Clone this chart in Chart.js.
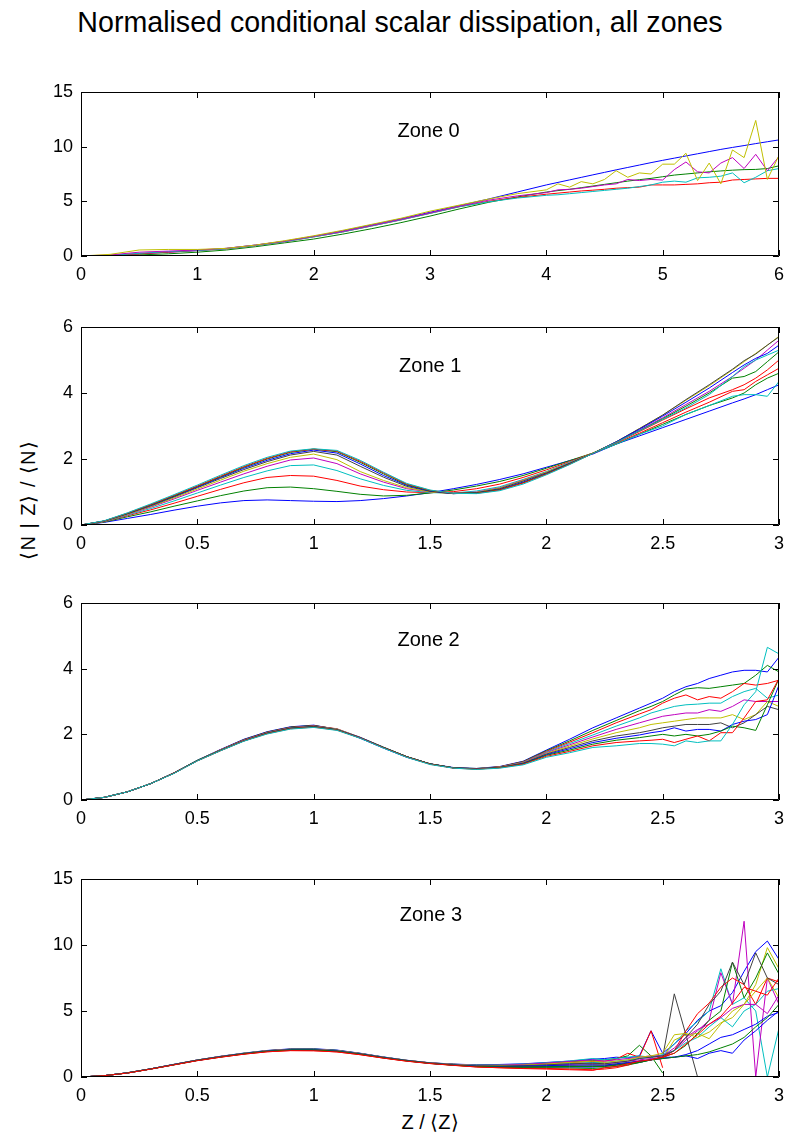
<!DOCTYPE html>
<html>
<head>
<meta charset="utf-8">
<script src="https://cdn.jsdelivr.net/npm/chart.js@4.4.0/dist/chart.umd.min.js"></script>
<style>
  html, body { margin: 0; padding: 0; background: #fff; }
  body { width: 789px; height: 1138px; position: relative; overflow: hidden;
         font-family: "Liberation Sans", Arial, sans-serif; color: #000; }
  canvas { position: absolute; left: 0; }
  .txt { position: absolute; white-space: nowrap; line-height: 1; }
</style>
</head>
<body>
<div class="txt" style="left:400px; top:8px; font-size:28.6px; transform:translateX(-50%);">Normalised conditional scalar dissipation, all zones</div>
<div class="txt" style="left:28px; top:500px; font-size:20px; letter-spacing:1px; transform:translate(-50%,-50%) rotate(-90deg);">⟨N | Z⟩ / ⟨N⟩</div>
<div class="txt" style="left:430px; top:1122px; font-size:20px; transform:translate(-50%,-50%);">Z / ⟨Z⟩</div>
<canvas id="zone0"></canvas>
<canvas id="zone1"></canvas>
<canvas id="zone2"></canvas>
<canvas id="zone3"></canvas>
<script>
// MATLAB classic line colour order: b g r c m y k
const LINE_COLORS = ['#0000ff', '#008000', '#ff0000', '#00bfbf', '#bf00bf', '#bfbf00', '#404040'];

// ---- Zone 0 ----
const zone0X = [0, 0.25, 0.5, 0.75, 1, 1.25, 1.5, 1.75, 2, 2.25, 2.5, 2.75, 3, 3.25, 3.5, 3.75, 4,
  4.1, 4.2, 4.3, 4.4, 4.5, 4.6, 4.7, 4.8, 4.9, 5, 5.1, 5.2, 5.3, 5.4, 5.5, 5.6, 5.7, 5.8, 5.9, 6];
const zone0Series = [
  [0, 0.05, 0.2, 0.35, 0.5, 0.7, 1.0, 1.35, 1.8, 2.3, 2.85, 3.4, 4.0, 4.6, 5.2, 5.85, 6.5,
   6.73, 6.96, 7.19, 7.42, 7.65, 7.88, 8.1, 8.32, 8.54, 8.75, 8.95, 9.15, 9.35, 9.55, 9.75, 9.93, 10.1, 10.28, 10.45, 10.62],
  [0, 0.02, 0.1, 0.2, 0.35, 0.55, 0.85, 1.2, 1.55, 2.0, 2.5, 3.05, 3.65, 4.3, 4.9, 5.4, 5.85,
   5.98, 6.1, 6.25, 6.4, 6.55, 6.7, 6.85, 6.98, 7.1, 7.25, 7.4, 7.5, 7.6, 7.7, 7.78, 7.85, 7.9, 7.92, 8.0, 8.25],
  [0, 0.05, 0.2, 0.35, 0.5, 0.65, 0.95, 1.3, 1.75, 2.2, 2.75, 3.3, 3.9, 4.5, 5.0, 5.35, 5.65,
   5.75, 5.85, 5.95, 6.02, 6.1, 6.2, 6.25, 6.3, 6.5, 6.5, 6.5, 6.55, 6.6, 6.7, 6.75, 6.95, 7.0, 7.05, 7.1, 7.1],
  [0, 0.05, 0.25, 0.4, 0.5, 0.65, 0.95, 1.3, 1.75, 2.2, 2.75, 3.3, 3.9, 4.5, 4.95, 5.3, 5.55,
   5.6, 5.7, 5.8, 5.9, 6.0, 6.1, 6.2, 6.35, 6.5, 6.75, 6.85, 6.75, 7.15, 7.2, 7.3, 7.6, 6.7, 7.2, 7.8, 8.0],
  [0, 0.1, 0.35, 0.45, 0.55, 0.7, 1.0, 1.35, 1.8, 2.25, 2.8, 3.35, 3.95, 4.55, 5.1, 5.5, 5.8,
   6.05, 6.1, 6.2, 6.35, 6.5, 6.6, 7.0, 6.9, 7.0, 6.95, 7.9, 8.6, 7.7, 7.6, 8.5, 9.0, 8.0, 9.3, 7.8, 9.1],
  [0, 0.15, 0.55, 0.6, 0.6, 0.7, 1.0, 1.4, 1.85, 2.35, 2.9, 3.45, 4.1, 4.65, 5.2, 5.7, 6.05,
   6.6, 6.3, 6.8, 6.6, 7.0, 7.8, 7.2, 7.6, 7.5, 8.4, 8.4, 9.4, 6.9, 8.5, 6.6, 9.7, 9.0, 12.4, 7.0, 9.2]
];

// ---- Zone 1 ----
const zone1X = [0, 0.1, 0.2, 0.3, 0.4, 0.5, 0.6, 0.7, 0.8, 0.9, 1, 1.1, 1.2, 1.3, 1.4, 1.5, 1.6, 1.7, 1.8, 1.9,
  2, 2.1, 2.2, 2.3, 2.4, 2.5, 2.6, 2.7, 2.8, 2.85, 2.9, 2.95, 3];
const zone1Series = [
  [0, 0.08, 0.2, 0.32, 0.45, 0.57, 0.67, 0.74, 0.76, 0.74, 0.72, 0.71, 0.74, 0.8, 0.88, 0.98, 1.1, 1.23, 1.38, 1.55,
   1.75, 1.95, 2.15, 2.45, 2.7, 2.95, 3.2, 3.45, 3.7, 3.82, 3.95, 4.1, 4.25],
  [0, 0.09, 0.25, 0.4, 0.57, 0.73, 0.89, 1.03, 1.13, 1.15, 1.1, 1.02, 0.93, 0.88, 0.9, 0.97, 1.06, 1.18, 1.32, 1.5,
   1.72, 1.95, 2.18, 2.45, 2.75, 3.05, 3.35, 3.62, 3.85, 4.0, 4.25, 4.45, 4.6],
  [0, 0.1, 0.28, 0.46, 0.66, 0.87, 1.08, 1.28, 1.44, 1.5, 1.48, 1.35, 1.18, 1.07, 1.0, 0.98, 1.01, 1.1, 1.24, 1.44,
   1.67, 1.92, 2.18, 2.47, 2.78, 3.1, 3.42, 3.72, 4.05, 4.1, 4.35, 4.55, 4.75],
  [0, 0.1, 0.3, 0.5, 0.73, 0.97, 1.21, 1.44, 1.64, 1.8, 1.82, 1.65, 1.4, 1.2, 1.05, 0.98, 0.97, 1.03, 1.16, 1.38,
   1.62, 1.9, 2.17, 2.45, 2.75, 3.0, 3.35, 3.62, 3.9, 3.95, 3.95, 3.9, 4.35],
  [0, 0.11, 0.32, 0.54, 0.79, 1.05, 1.3, 1.55, 1.78, 1.97, 2.03, 1.86, 1.55, 1.3, 1.1, 1.0, 0.96, 1.0, 1.13, 1.36,
   1.6, 1.88, 2.17, 2.5, 2.87, 3.25, 3.65, 4.05, 4.5, 4.75, 5.0, 5.3, 5.6],
  [0, 0.11, 0.33, 0.56, 0.82, 1.09, 1.36, 1.63, 1.86, 2.05, 2.15, 1.98, 1.62, 1.35, 1.13, 1.0, 0.95, 0.99, 1.12, 1.35,
   1.6, 1.88, 2.18, 2.52, 2.92, 3.33, 3.78, 4.22, 4.7, 4.95, 5.2, 5.45, 5.72],
  [0, 0.12, 0.34, 0.58, 0.85, 1.13, 1.41, 1.68, 1.92, 2.12, 2.23, 2.12, 1.78, 1.45, 1.17, 1.02, 0.95, 0.98, 1.1, 1.33,
   1.58, 1.87, 2.17, 2.52, 2.92, 3.33, 3.8, 4.25, 4.72, 4.98, 5.18, 5.45, 5.7],
  [0, 0.12, 0.35, 0.6, 0.87, 1.15, 1.44, 1.72, 1.96, 2.16, 2.27, 2.18, 1.85, 1.5, 1.2, 1.03, 0.95, 0.97, 1.08, 1.3,
   1.56, 1.86, 2.17, 2.52, 2.9, 3.3, 3.72, 4.15, 4.62, 4.85, 5.05, 5.2, 5.45],
  [0, 0.12, 0.35, 0.61, 0.88, 1.17, 1.46, 1.75, 2.0, 2.2, 2.3, 2.22, 1.9, 1.55, 1.22, 1.04, 0.96, 0.97, 1.07, 1.28,
   1.55, 1.85, 2.17, 2.5, 2.85, 3.22, 3.6, 4.0, 4.45, 4.5, 4.65, 4.95, 5.25],
  [0, 0.12, 0.36, 0.62, 0.9, 1.18, 1.48, 1.77, 2.02, 2.22, 2.3, 2.24, 1.93, 1.58, 1.24, 1.05, 0.96, 0.96, 1.06, 1.27,
   1.54, 1.84, 2.17, 2.5, 2.83, 3.18, 3.52, 3.85, 4.1, 4.25, 4.45, 4.7, 5.0],
  [0, 0.13, 0.37, 0.64, 0.92, 1.21, 1.51, 1.8, 2.05, 2.24, 2.31, 2.26, 1.96, 1.6, 1.26, 1.06, 0.96, 0.95, 1.04, 1.24,
   1.52, 1.83, 2.17, 2.5, 2.85, 3.2, 3.55, 3.95, 4.5, 4.8, 5.0, 5.15, 5.3]
];

// ---- Zone 2 ----
const zone2X = [0, 0.1, 0.2, 0.3, 0.4, 0.5, 0.6, 0.7, 0.8, 0.9, 1, 1.1, 1.2, 1.3, 1.4, 1.5, 1.6, 1.7, 1.8, 1.9,
  2, 2.1, 2.2, 2.3, 2.4, 2.45, 2.5, 2.55, 2.6, 2.65, 2.7, 2.75, 2.8, 2.85, 2.9, 2.95, 3];
const zone2Series = [
  [0, 0.08, 0.25, 0.5, 0.83, 1.21, 1.54, 1.85, 2.08, 2.23, 2.28, 2.15, 1.88, 1.58, 1.3, 1.1, 0.99, 0.96, 1.02, 1.18,
   1.52, 1.85, 2.2, 2.5, 2.8, 2.95, 3.1, 3.3, 3.45, 3.55, 3.7, 3.8, 3.9, 3.95, 3.95, 3.9, 4.35],
  [0, 0.08, 0.25, 0.5, 0.83, 1.21, 1.53, 1.84, 2.07, 2.22, 2.27, 2.16, 1.9, 1.6, 1.31, 1.1, 0.98, 0.96, 1.01, 1.17,
   1.5, 1.8, 2.12, 2.42, 2.72, 2.85, 3.0, 3.2, 3.38, 3.42, 3.4, 3.45, 3.5, 3.55, 3.8, 4.1, 3.9],
  [0, 0.08, 0.25, 0.5, 0.82, 1.2, 1.53, 1.83, 2.06, 2.21, 2.26, 2.17, 1.91, 1.61, 1.32, 1.1, 0.98, 0.95, 1.01, 1.16,
   1.48, 1.76, 2.05, 2.35, 2.62, 2.75, 2.95, 3.1, 3.2, 3.05, 3.15, 3.1, 3.3, 3.55, 3.5, 3.55, 3.65],
  [0, 0.08, 0.25, 0.5, 0.82, 1.2, 1.52, 1.82, 2.05, 2.2, 2.25, 2.16, 1.91, 1.61, 1.32, 1.1, 0.98, 0.95, 1.0, 1.15,
   1.46, 1.72, 1.98, 2.25, 2.5, 2.65, 2.75, 2.85, 2.9, 2.92, 2.95, 2.95, 3.15, 3.3, 3.4, 3.1, 3.2],
  [0, 0.08, 0.25, 0.5, 0.82, 1.2, 1.52, 1.82, 2.05, 2.2, 2.25, 2.15, 1.9, 1.6, 1.32, 1.1, 0.98, 0.95, 1.0, 1.14,
   1.44, 1.68, 1.92, 2.15, 2.35, 2.45, 2.55, 2.6, 2.65, 2.65, 2.75, 2.7, 2.85, 3.05, 3.0, 3.0, 3.0],
  [0, 0.08, 0.25, 0.5, 0.82, 1.2, 1.52, 1.81, 2.04, 2.19, 2.24, 2.15, 1.9, 1.6, 1.32, 1.1, 0.98, 0.95, 1.0, 1.13,
   1.42, 1.64, 1.86, 2.05, 2.2, 2.3, 2.35, 2.4, 2.45, 2.5, 2.5, 2.5, 2.6, 2.45, 2.6, 3.0, 2.85],
  [0, 0.08, 0.25, 0.5, 0.82, 1.2, 1.51, 1.81, 2.04, 2.19, 2.24, 2.14, 1.9, 1.6, 1.32, 1.1, 0.98, 0.95, 0.99, 1.12,
   1.4, 1.6, 1.8, 1.95, 2.05, 2.12, 2.2, 2.25, 2.3, 2.3, 2.3, 2.35, 2.2, 2.35, 2.6, 2.85, 2.75],
  [0, 0.08, 0.25, 0.5, 0.82, 1.2, 1.51, 1.8, 2.03, 2.18, 2.23, 2.14, 1.9, 1.6, 1.32, 1.1, 0.98, 0.95, 0.99, 1.11,
   1.38, 1.56, 1.75, 1.88, 1.98, 2.05, 2.1, 2.2, 2.1, 2.15, 2.15, 2.1, 2.3, 2.4, 2.45, 2.6, 3.5],
  [0, 0.08, 0.25, 0.5, 0.82, 1.2, 1.51, 1.8, 2.03, 2.18, 2.23, 2.14, 1.89, 1.6, 1.32, 1.1, 0.98, 0.94, 0.99, 1.1,
   1.36, 1.52, 1.7, 1.82, 1.9, 1.95, 2.0, 1.95, 2.0, 1.95, 2.0, 2.1, 2.25, 2.2, 2.12, 2.9, 3.7],
  [0, 0.08, 0.25, 0.5, 0.82, 1.19, 1.5, 1.8, 2.02, 2.17, 2.22, 2.13, 1.89, 1.59, 1.31, 1.09, 0.97, 0.94, 0.98, 1.09,
   1.33, 1.48, 1.65, 1.75, 1.8, 1.82, 1.85, 1.75, 1.85, 1.95, 1.8, 2.05, 2.05, 2.5, 3.0, 3.05, 3.7],
  [0, 0.08, 0.25, 0.5, 0.81, 1.19, 1.5, 1.79, 2.01, 2.16, 2.21, 2.12, 1.88, 1.58, 1.3, 1.08, 0.97, 0.93, 0.97, 1.07,
   1.3, 1.44, 1.6, 1.65, 1.72, 1.72, 1.7, 1.65, 1.8, 1.75, 1.8, 1.8, 2.3, 2.9, 3.3, 4.65, 4.45]
];

// ---- Zone 3 ----
const zone3X = [0, 0.1, 0.2, 0.3, 0.4, 0.5, 0.6, 0.7, 0.8, 0.9, 1, 1.1, 1.2, 1.3, 1.4, 1.5, 1.6, 1.7, 1.8, 1.9,
  2, 2.1, 2.2, 2.25, 2.3, 2.35, 2.4, 2.45, 2.5, 2.55, 2.6, 2.65, 2.7, 2.75, 2.8, 2.85, 2.9, 2.95, 3];
const zone3Series = [
  [0, 0.1, 0.32, 0.62, 0.96, 1.29, 1.57, 1.81, 2.01, 2.13, 2.14, 2.04, 1.8, 1.52, 1.27, 1.08,
   0.98, 0.92, 0.95, 1.0, 1.1, 1.2, 1.35,
   1.4, 1.5, 1.45, 1.6, 3.5, 1.8, 2.5, 3.3, 4.3, 5.0, 5.4, 6.4, 8.0, 9.5, 10.3, 8.9],
  [0, 0.1, 0.32, 0.62, 0.96, 1.29, 1.56, 1.8, 2.0, 2.11, 2.12, 2.02, 1.79, 1.51, 1.26, 1.07,
   0.97, 0.9, 0.9, 0.95, 1.05, 1.15, 1.25,
   1.3, 1.4, 1.6, 2.4, 1.6, 0.3, null, null, null, null, null, null, null, null, null, null],
  [0, 0.1, 0.32, 0.62, 0.95, 1.28, 1.56, 1.79, 1.99, 2.1, 2.1, 2.0, 1.78, 1.5, 1.26, 1.07,
   0.96, 0.88, 0.88, 0.92, 1.0, 1.08, 1.18,
   1.2, 1.35, 1.8, 1.5, 3.5, 0.7, null, null, null, null, null, null, null, null, null, null],
  [0, 0.1, 0.32, 0.62, 0.95, 1.28, 1.55, 1.79, 1.98, 2.09, 2.09, 1.99, 1.77, 1.49, 1.25, 1.06,
   0.95, 0.87, 0.85, 0.88, 0.95, 1.02, 1.1,
   1.1, 1.2, 1.3, 1.4, 1.5, 1.6, 2.5, 3.5, 4.2, 5.0, 8.2, 5.5, 6.0, 5.0, 0.0, 3.7],
  [0, 0.1, 0.32, 0.62, 0.95, 1.28, 1.55, 1.78, 1.97, 2.08, 2.08, 1.98, 1.76, 1.49, 1.25, 1.06,
   0.94, 0.85, 0.82, 0.85, 0.9, 0.95, 1.02,
   1.0, 1.1, 1.2, 1.3, 1.4, 1.5, 2.0, 2.8, 3.5, 4.3, 7.9, 5.5, 11.8, 0.0, 7.5, 5.5],
  [0, 0.1, 0.32, 0.62, 0.95, 1.27, 1.55, 1.78, 1.97, 2.07, 2.07, 1.97, 1.75, 1.48, 1.25, 1.05,
   0.93, 0.83, 0.8, 0.8, 0.85, 0.88, 0.95,
   0.95, 1.0, 1.1, 1.2, 1.3, 1.4, 2.8, 3.2, 3.3, 2.9, 4.0, 5.0, 5.5, 7.0, 9.8, 8.2],
  [0, 0.1, 0.31, 0.61, 0.94, 1.27, 1.54, 1.77, 1.96, 2.06, 2.06, 1.96, 1.74, 1.47, 1.24, 1.05,
   0.92, 0.82, 0.78, 0.77, 0.8, 0.82, 0.85,
   0.85, 0.95, 1.05, 1.2, 1.3, 1.5, 6.3, 3.2, 0.0, null, null, null, null, null, null, null],
  [0, 0.1, 0.31, 0.61, 0.94, 1.26, 1.53, 1.76, 1.95, 2.05, 2.05, 1.95, 1.73, 1.46, 1.23, 1.04,
   0.91, 0.8, 0.75, 0.73, 0.75, 0.75, 0.75,
   0.8, 0.9, 1.0, 1.1, 1.3, 1.5, 1.5, 1.6, 1.4, 1.8, 2.0, 1.8, 2.8, 3.5, 4.3, 5.0],
  [0, 0.1, 0.31, 0.61, 0.93, 1.26, 1.52, 1.75, 1.94, 2.04, 2.03, 1.94, 1.72, 1.45, 1.22, 1.03,
   0.9, 0.78, 0.72, 0.7, 0.7, 0.68, 0.65,
   0.7, 0.8, 0.9, 1.1, 1.3, 1.5, 1.8, 2.4, 3.3, 4.3, 5.0, 8.7, 6.0, 7.5, 9.4, 7.8],
  [0, 0.1, 0.3, 0.6, 0.92, 1.24, 1.5, 1.73, 1.91, 2.0, 1.99, 1.9, 1.69, 1.43, 1.2, 1.02,
   0.89, 0.76, 0.7, 0.66, 0.65, 0.6, 0.55,
   0.6, 0.7, 0.9, 1.2, 1.3, 1.5, 2.0, 3.5, 4.8, 5.6, 6.8, 7.5, 7.0, 5.5, 7.5, 7.2],
  [0, 0.1, 0.32, 0.62, 0.95, 1.28, 1.55, 1.79, 1.98, 2.09, 2.1, 2.0, 1.77, 1.5, 1.26, 1.06,
   0.95, 0.9, 0.92, 0.98, 1.08, 1.22, 1.4,
   1.3, 1.4, 1.5, 1.6, 1.5, 1.7, 2.0, 2.6, 3.0, 3.8, 4.5, 3.8, 5.0, 5.5, 6.5, 6.7],
  [0, 0.1, 0.32, 0.62, 0.95, 1.28, 1.55, 1.78, 1.98, 2.08, 2.09, 1.99, 1.77, 1.49, 1.25, 1.06,
   0.94, 0.88, 0.9, 0.96, 1.05, 1.18, 1.3,
   1.2, 1.3, 1.4, 1.5, 1.6, 1.6, 2.2, 3.0, 3.6, 4.0, 4.5, 5.2, 5.5, 5.5, 4.8, 6.2],
  [0, 0.1, 0.31, 0.61, 0.94, 1.27, 1.54, 1.78, 1.97, 2.07, 2.08, 1.98, 1.76, 1.48, 1.25, 1.05,
   0.93, 0.86, 0.86, 0.9, 0.98, 1.1, 1.2,
   1.1, 1.2, 1.3, 1.5, 1.6, 1.8, 3.2, 3.3, 3.0, 3.4, 4.1, 4.5, 5.5, 6.5, 7.5, 6.0],
  [0, 0.1, 0.31, 0.61, 0.94, 1.27, 1.54, 1.77, 1.96, 2.06, 2.07, 1.97, 1.75, 1.48, 1.24, 1.05,
   0.92, 0.84, 0.83, 0.86, 0.92, 1.0, 1.05,
   1.0, 1.1, 1.2, 1.4, 1.5, 1.6, 2.0, 3.0, 4.0, 5.5, 6.5, 8.7, 7.0, 9.4, 7.5, 7.0],
  [0, 0.1, 0.31, 0.61, 0.94, 1.26, 1.53, 1.77, 1.96, 2.06, 2.06, 1.96, 1.74, 1.47, 1.24, 1.04,
   0.91, 0.82, 0.8, 0.82, 0.86, 0.9, 0.92,
   0.9, 1.0, 1.1, 1.2, 1.3, 1.4, 1.5, 1.7, 2.0, 2.5, 3.0, 3.2, 3.6, 4.0, 4.6, 4.9],
  [0, 0.1, 0.31, 0.61, 0.93, 1.26, 1.52, 1.76, 1.95, 2.05, 2.05, 1.95, 1.73, 1.46, 1.23, 1.04,
   0.9, 0.8, 0.76, 0.76, 0.78, 0.8, 0.8,
   0.8, 0.9, 1.0, 1.1, 1.3, 1.4, 1.5, 1.6, 1.7, 1.9, 2.2, 2.5, 3.0, 3.8, 4.5, 5.5],
  [0, 0.1, 0.3, 0.6, 0.92, 1.24, 1.5, 1.73, 1.91, 2.0, 1.99, 1.9, 1.69, 1.43, 1.2, 1.02,
   0.88, 0.76, 0.7, 0.64, 0.6, 0.55, 0.5,
   0.7, 0.8, 1.0, 1.2, 1.3, 1.5, 1.8, 2.5, 3.2, 4.0, 4.6, 5.6, 6.8, 6.5, 6.2, 7.5]
];

const FONT_FAMILY = '"Liberation Sans", Arial, sans-serif';

// Box round the axes plus inward ticks on all four sides, and the zone caption
const framePlugin = {
  id: 'frame',
  afterDraw(chart, args, opts) {
    const { ctx, chartArea: a, scales: { x, y } } = chart;
    const tl = 6;
    ctx.save();
    ctx.strokeStyle = '#000';
    ctx.lineWidth = 1;
    ctx.beginPath();
    ctx.rect(a.left + 0.5, a.top + 0.5, a.right - a.left - 1, a.bottom - a.top - 1);
    x.ticks.forEach(t => {
      const px = Math.round(x.getPixelForValue(t.value)) + 0.5;
      ctx.moveTo(px, a.bottom); ctx.lineTo(px, a.bottom - tl);
      ctx.moveTo(px, a.top); ctx.lineTo(px, a.top + tl);
    });
    y.ticks.forEach(t => {
      const py = Math.round(y.getPixelForValue(t.value)) + 0.5;
      ctx.moveTo(a.left, py); ctx.lineTo(a.left + tl, py);
      ctx.moveTo(a.right, py); ctx.lineTo(a.right - tl, py);
    });
    ctx.stroke();
    ctx.fillStyle = '#000';
    ctx.font = '20px ' + FONT_FAMILY;
    ctx.textAlign = 'left';
    ctx.textBaseline = 'middle';
    ctx.fillText(opts.label, x.getPixelForValue(opts.lx), y.getPixelForValue(opts.ly));
    ctx.restore();
  }
};

function makeZone(id, top, plotH, xs, series, xMax, xStep, yMax, yStep, label, lx, ly) {
  const padTop = 12, axisH = 40;
  const canvas = document.getElementById(id);
  canvas.width = 789;
  canvas.height = plotH + padTop + axisH;
  canvas.style.top = (top - padTop) + 'px';

  const n = series.length;
  const datasets = series.map((ys, i) => ({
    data: xs.map((x, j) => ({ x: x, y: ys[j] })),
    borderColor: LINE_COLORS[i % LINE_COLORS.length],
    borderWidth: 1,
    pointRadius: 0,
    tension: 0,
    fill: false,
    order: n - i   // later lines drawn on top, as in the original
  }));

  const tickFmt = v => String(Math.round(v * 100) / 100);

  return new Chart(canvas.getContext('2d'), {
    type: 'line',
    data: { datasets },
    options: {
      responsive: false,
      animation: false,
      devicePixelRatio: 1,
      layout: { padding: { top: padTop, right: 10, bottom: 0, left: 0 } },
      plugins: {
        legend: { display: false },
        tooltip: { enabled: false },
        frame: { label, lx, ly }
      },
      scales: {
        x: {
          type: 'linear',
          min: 0, max: xMax,
          grid: { display: false, drawTicks: false },
          border: { display: false },
          ticks: {
            stepSize: xStep, autoSkip: false, maxRotation: 0, padding: 8,
            color: '#000', font: { family: FONT_FAMILY, size: 18 }, callback: tickFmt
          },
          afterFit: s => { s.height = axisH; s.paddingLeft = 0; s.paddingRight = 0; }
        },
        y: {
          type: 'linear',
          min: 0, max: yMax,
          grid: { display: false, drawTicks: false },
          border: { display: false },
          ticks: {
            stepSize: yStep, autoSkip: false, padding: 8,
            color: '#000', font: { family: FONT_FAMILY, size: 18 }, callback: tickFmt
          },
          afterFit: s => { s.width = 81; s.paddingTop = 0; s.paddingBottom = 0; }
        }
      }
    },
    plugins: [framePlugin]
  });
}

makeZone('zone0', 92, 164, zone0X, zone0Series, 6, 1, 15, 5, 'Zone 0', 2.72, 11.4);
makeZone('zone1', 327, 198, zone1X, zone1Series, 3, 0.5, 6, 2, 'Zone 1', 1.367, 4.79);
makeZone('zone2', 603, 197, zone2X, zone2Series, 3, 0.5, 6, 2, 'Zone 2', 1.36, 4.87);
makeZone('zone3', 879, 198, zone3X, zone3Series, 3, 0.5, 15, 5, 'Zone 3', 1.37, 12.27);
</script>
</body>
</html>
